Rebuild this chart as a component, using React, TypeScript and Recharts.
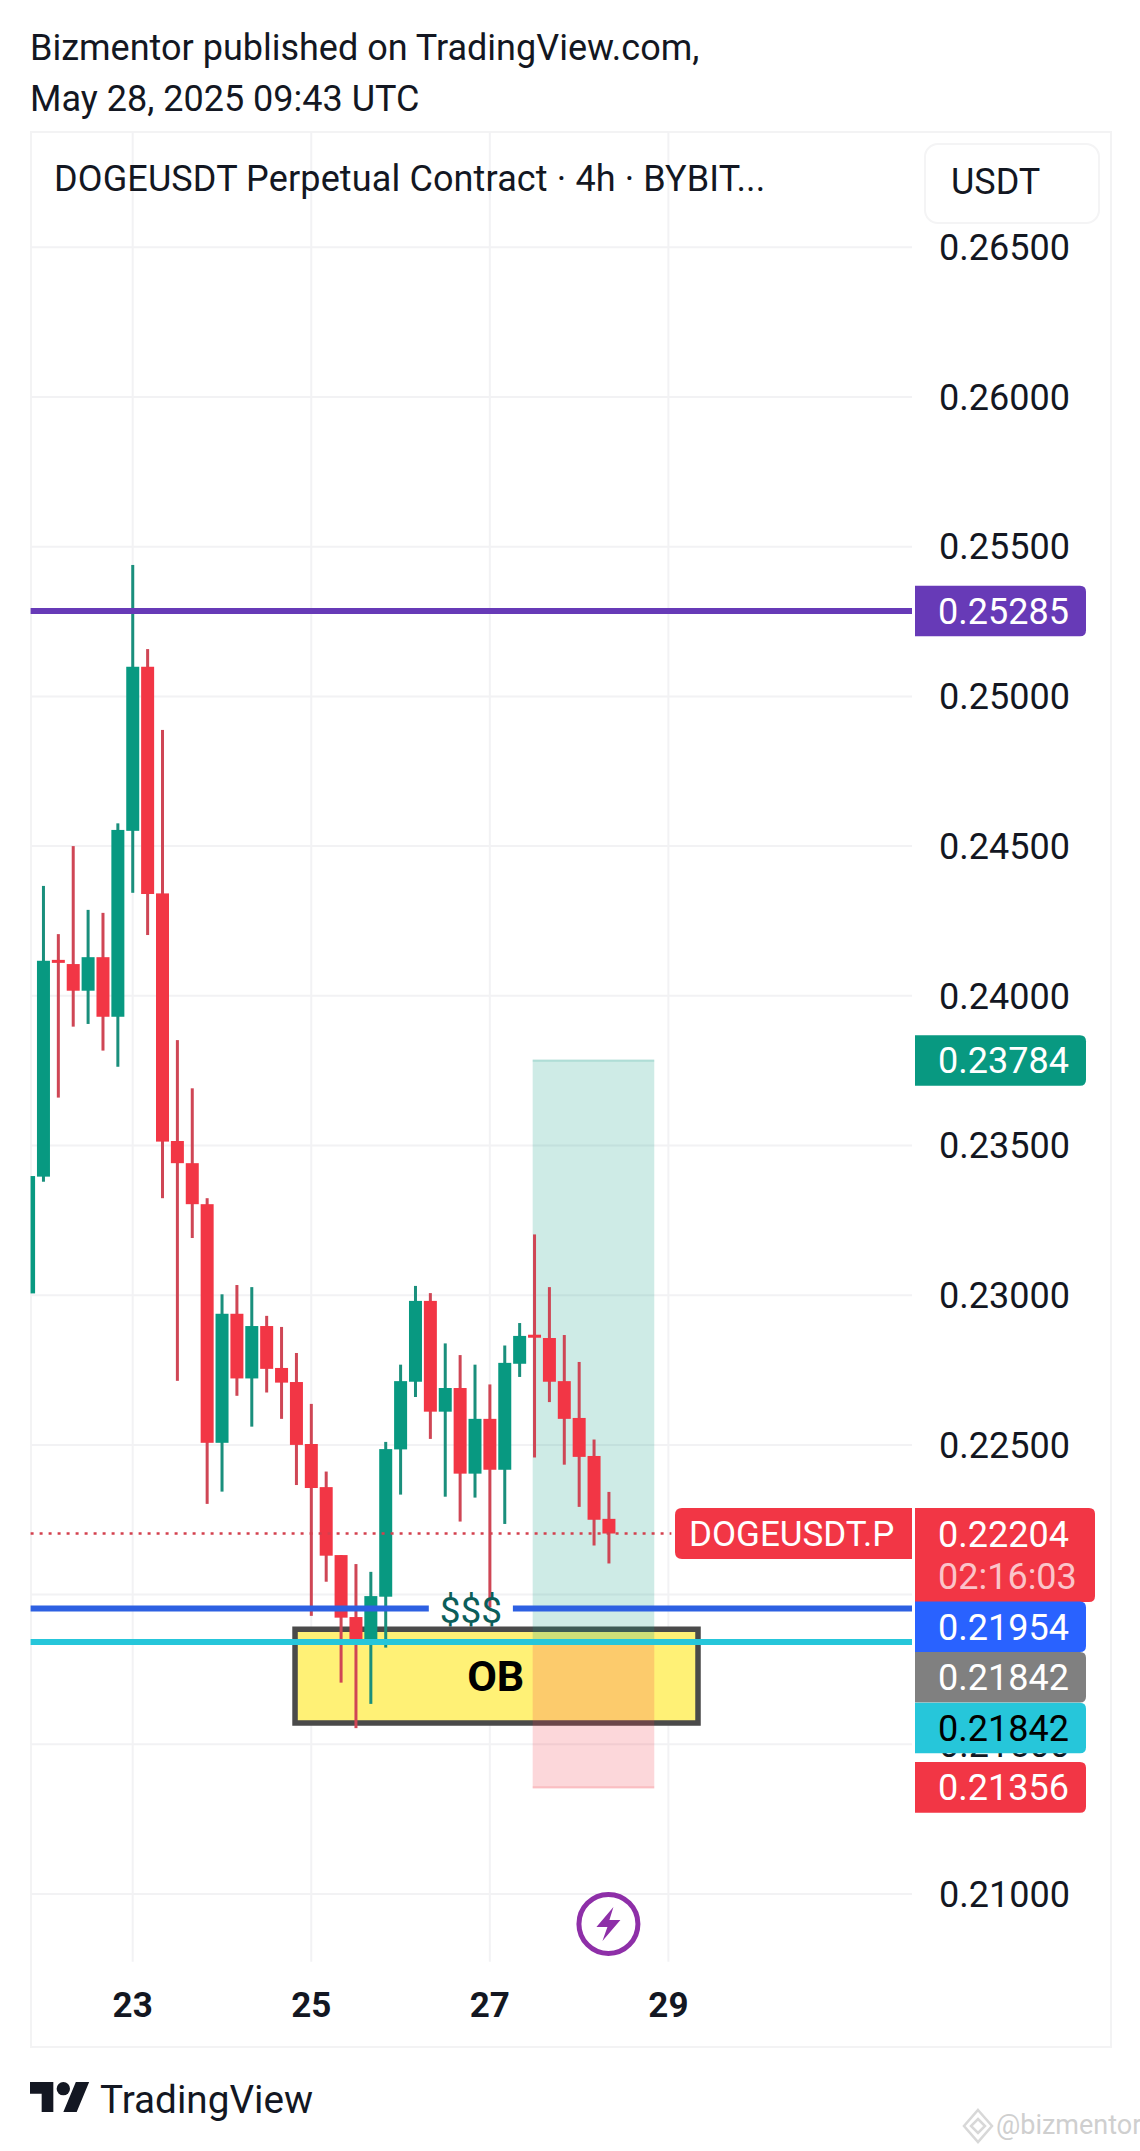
import {
  Bar,
  CartesianGrid,
  ComposedChart,
  ReferenceArea,
  ReferenceDot,
  ReferenceLine,
  XAxis,
  YAxis,
} from 'recharts';

// 4h bars counted from the start of May 23
const barIndex = [
  -7, -6, -5, -4, -3, -2, -1, 0, 1, 2, 3, 4, 5, 6, 7, 8, 9, 10, 11, 12, 13, 14, 15, 16, 17, 18, 19,
  20, 21, 22, 23, 24, 25, 26, 27, 28, 29, 30, 31, 32,
];
const opens = [
  0.23006, 0.23396, 0.2412, 0.24106, 0.24017, 0.24129, 0.2393, 0.24551, 0.25099, 0.24342, 0.23515,
  0.23441, 0.23304, 0.22507, 0.22938, 0.22722, 0.22897, 0.22757, 0.2271, 0.22503, 0.22359, 0.22132,
  0.21925, 0.21842, 0.21993, 0.22485, 0.22711, 0.22981, 0.22611, 0.2269, 0.22404, 0.22587, 0.22417,
  0.22771, 0.22868, 0.22857, 0.22713, 0.2259, 0.22463, 0.22253,
];
const highs = [
  0.23398, 0.24367, 0.24206, 0.245, 0.24287, 0.24277, 0.24576, 0.25439, 0.25158, 0.24888, 0.23852,
  0.23691, 0.23324, 0.23003, 0.23034, 0.23027, 0.22931, 0.22894, 0.22807, 0.22637, 0.22411, 0.22132,
  0.22102, 0.22076, 0.2251, 0.22768, 0.23031, 0.23007, 0.22839, 0.228, 0.22768, 0.22702, 0.22832,
  0.22907, 0.23203, 0.23027, 0.22867, 0.22777, 0.22518, 0.22343,
];
const lows = [
  0.23006, 0.23379, 0.2366, 0.23897, 0.23906, 0.23817, 0.23763, 0.24344, 0.24203, 0.23324, 0.22714,
  0.23191, 0.22303, 0.22344, 0.22664, 0.22561, 0.22675, 0.22587, 0.22366, 0.21929, 0.22043, 0.21706,
  0.21554, 0.21635, 0.21823, 0.22334, 0.2266, 0.2252, 0.22327, 0.22244, 0.22324, 0.21957, 0.22236,
  0.22727, 0.22458, 0.22643, 0.22434, 0.22293, 0.22164, 0.22104,
];
const closes = [
  0.23398, 0.24117, 0.2411, 0.24017, 0.24129, 0.2393, 0.24554, 0.25099, 0.2434, 0.23513, 0.23441,
  0.23304, 0.22507, 0.22938, 0.22722, 0.22897, 0.22754, 0.22708, 0.225, 0.22356, 0.2213, 0.21923,
  0.21842, 0.21995, 0.22486, 0.22713, 0.22981, 0.22611, 0.2269, 0.22404, 0.22587, 0.22417, 0.22774,
  0.22864, 0.22858, 0.22711, 0.22587, 0.2246, 0.2225, 0.22204,
];

const priceTicks = [
  0.21, 0.215, 0.22, 0.225, 0.23, 0.235, 0.24, 0.245, 0.25, 0.255, 0.26, 0.265,
];
const dayTicks = [0, 12, 24, 36];
const dayLabels = ['23', '25', '27', '29'];

const resistance = 0.25285;
const liquidity = 0.21954;
const entry = 0.21842;
const target = 0.23784;
const stop = 0.21356;
const lastPrice = 0.22204;
const countdown = '02:16:03';
const obTop = 0.21884;
const obBottom = 0.21571;

const data = barIndex.map((k, i) => ({
  k,
  open: opens[i],
  high: highs[i],
  low: lows[i],
  close: closes[i],
  range: [lows[i], highs[i]],
}));

const UP = '#089981';
const DOWN = '#f23645';
const FONT = 'Roboto, sans-serif';
const GRID = '#f2f2f4';
const X_DOMAIN = [-6.86, 52.37];
const Y_DOMAIN = [0.207739, 0.268861];

function Candle(props: any) {
  const { x, y, width, height, payload } = props;
  const { open, high, low, close } = payload;
  const up = close >= open;
  const span = high - low || 1;
  const yOf = (p: number) => y + ((high - p) / span) * height;
  const top = yOf(Math.max(open, close));
  const bottom = yOf(Math.min(open, close));
  const cx = x + width / 2;
  return (
    <g>
      <rect x={cx - 1.5} y={y} width={3} height={height} fill={up ? '#1a8f7c' : '#cf4655'} />
      <rect x={x} y={top} width={width} height={Math.max(bottom - top, 3)} fill={up ? UP : DOWN} />
    </g>
  );
}

function tagLabel(text: string, fill: string, color: string, dy: number) {
  return (props: any) => {
    const { viewBox } = props;
    const cy = viewBox.y + dy;
    const l = 915;
    const r = 1086;
    const t = cy - 25.3;
    const b = cy + 25.3;
    return (
      <g>
        <path
          d={`M${l} ${t}H${r - 6}Q${r} ${t} ${r} ${t + 6}V${b - 6}Q${r} ${b} ${r - 6} ${b}H${l}Z`}
          fill={fill}
        />
        <text x={938} y={cy + 1} dominantBaseline="central" fontFamily={FONT} fontSize={36} fill={color}>
          {text}
        </text>
      </g>
    );
  };
}

function lastPriceLabel(props: any) {
  const { viewBox } = props;
  const cy = viewBox.y;
  const t = cy - 25.5;
  const b = cy + 68.4;
  return (
    <g>
      <path
        d={`M675 ${t + 7}Q675 ${t} 682 ${t}H912V${cy + 25.5}H682Q675 ${cy + 25.5} 675 ${cy + 18.5}Z`}
        fill={DOWN}
      />
      <text x={689} y={cy + 1} dominantBaseline="central" fontFamily={FONT} fontSize={35} fill="#fff">
        DOGEUSDT.P
      </text>
      <path d={`M915 ${t}H1089Q1095 ${t} 1095 ${t + 6}V${b - 6}Q1095 ${b} 1089 ${b}H915Z`} fill={DOWN} />
      <text x={938} y={cy + 1} dominantBaseline="central" fontFamily={FONT} fontSize={36} fill="#fff">
        {lastPrice.toFixed(5)}
      </text>
      <text x={938} y={cy + 43} dominantBaseline="central" fontFamily={FONT} fontSize={36} fill="#fbc4c9">
        {countdown}
      </text>
    </g>
  );
}

function BoltIcon(props: any) {
  const { cx, cy } = props;
  return (
    <g transform={`translate(${cx} ${cy})`}>
      <circle r={29.5} fill="#fff" stroke="#8e2fa8" strokeWidth={5} />
      <path d="M5 -17L-12 3H-1L-6 17L12 -4H1Z" fill="#8e2fa8" />
    </g>
  );
}

export default function App() {
  return (
    <div style={{ position: 'absolute', left: 0, top: 0, width: 1140, height: 2151, background: '#fff', fontFamily: FONT, color: '#131722' }}>
      <div style={{ position: 'absolute', left: 30, top: 23, fontSize: 36, lineHeight: '50.6px', whiteSpace: 'nowrap' }}>
        Bizmentor published on TradingView.com,
        <br />
        May 28, 2025 09:43 UTC
      </div>
      <div style={{ position: 'absolute', left: 30, top: 131, width: 1078, height: 1913, border: '2px solid #f3f3f4' }} />

      <div style={{ position: 'absolute', left: 0, top: 0 }}>
        <ComposedChart
          width={1140}
          height={2151}
          data={data}
          margin={{ top: 131.7, right: 0, bottom: 0, left: 30.6 }}
          barSize={13}
          style={{ fontFamily: FONT }}
        >
          <CartesianGrid stroke={GRID} strokeWidth={2} syncWithTicks />
          <XAxis
            dataKey="k"
            type="number"
            domain={X_DOMAIN}
            allowDataOverflow
            ticks={dayTicks}
            tickFormatter={(v: number) => dayLabels[dayTicks.indexOf(v)]}
            height={189.3}
            axisLine={false}
            tickLine={false}
            tickMargin={24}
            tick={{ fontFamily: FONT, fontSize: 35, fontWeight: 700, fill: '#131722' }}
            interval={0}
          />
          <YAxis
            orientation="right"
            type="number"
            domain={Y_DOMAIN}
            allowDataOverflow
            ticks={priceTicks}
            tickFormatter={(v: number) => v.toFixed(5)}
            width={228}
            axisLine={false}
            tickLine={false}
            tickMargin={21}
            interval={0}
            tick={{ fontFamily: FONT, fontSize: 36, fill: '#131722', textAnchor: 'start' }}
          />

          <ReferenceArea
            x1={10.91}
            x2={37.99}
            y1={obBottom}
            y2={obTop}
            fill="#fff176"
            fillOpacity={1}
            stroke="#4a4a4a"
            strokeWidth={5.5}
          />
          <ReferenceArea x1={26.88} x2={35.05} y1={entry} y2={target} fill={UP} fillOpacity={0.2} stroke="none" />
          <ReferenceArea x1={26.88} x2={35.05} y1={stop} y2={entry} fill={DOWN} fillOpacity={0.2} stroke="none" />
          <ReferenceLine segment={[{ x: 26.88, y: target }, { x: 35.05, y: target }]} stroke={UP} strokeOpacity={0.25} strokeWidth={2} />
          <ReferenceLine segment={[{ x: 26.88, y: stop }, { x: 35.05, y: stop }]} stroke={DOWN} strokeOpacity={0.25} strokeWidth={2} />

          <ReferenceLine y={resistance} stroke="#673ab7" strokeWidth={6} />
          <ReferenceLine segment={[{ x: -6.86, y: liquidity }, { x: 19.9, y: liquidity }]} stroke="#2d60e2" strokeWidth={6} />
          <ReferenceLine segment={[{ x: 25.55, y: liquidity }, { x: 52.37, y: liquidity }]} stroke="#2d60e2" strokeWidth={6} />
          <ReferenceLine y={entry} stroke="#26c6da" strokeWidth={6} />
          <ReferenceLine
            segment={[{ x: -6.86, y: lastPrice }, { x: 36.2, y: lastPrice }]}
            stroke="#d3404e"
            strokeWidth={2.6}
            strokeDasharray="3 6"
          />

          <Bar dataKey="range" shape={Candle} isAnimationActive={false} />
          <ReferenceDot x={31.97} y={0.209} shape={BoltIcon} />
        </ComposedChart>
      </div>

      {/* second layer so the price tags cover the axis labels */}
      <div style={{ position: 'absolute', left: 0, top: 0 }}>
        <ComposedChart
          width={1140}
          height={2151}
          data={data}
          margin={{ top: 131.7, right: 228, bottom: 189.3, left: 30.6 }}
          style={{ fontFamily: FONT }}
        >
          <XAxis dataKey="k" type="number" domain={X_DOMAIN} allowDataOverflow hide />
          <YAxis type="number" domain={Y_DOMAIN} allowDataOverflow hide />
          <ReferenceDot
            x={22.73}
            y={liquidity}
            r={0}
            fill="none"
            stroke="none"
            label={{ value: '$$$', position: 'center', fontFamily: FONT, fontSize: 37, fill: '#0b5e5a', dy: 1 }}
          />
          <ReferenceDot
            x={24.4}
            y={(obTop + obBottom) / 2}
            r={0}
            fill="none"
            stroke="none"
            label={{ value: 'OB', position: 'center', fontFamily: FONT, fontSize: 43, fontWeight: 700, fill: '#000' }}
          />
          <ReferenceLine y={resistance} stroke="none" label={{ content: tagLabel('0.25285', '#673ab7', '#fff', 0) }} />
          <ReferenceLine y={target} stroke="none" label={{ content: tagLabel('0.23784', UP, '#fff', 0) }} />
          <ReferenceLine y={lastPrice} stroke="none" label={{ content: lastPriceLabel }} />
          <ReferenceLine y={liquidity} stroke="none" label={{ content: tagLabel('0.21954', '#2962ff', '#fff', 18.3) }} />
          <ReferenceLine y={entry} stroke="none" label={{ content: tagLabel('0.21842', '#808080', '#fff', 35.3) }} />
          <ReferenceLine y={entry} stroke="none" label={{ content: tagLabel('0.21842', '#26c6da', '#000', 86.1) }} />
          <ReferenceLine y={stop} stroke="none" label={{ content: tagLabel('0.21356', DOWN, '#fff', 0) }} />
        </ComposedChart>
      </div>

      <div style={{ position: 'absolute', left: 54, top: 159, fontSize: 36, lineHeight: '40px', letterSpacing: 0.13, whiteSpace: 'nowrap' }}>
        DOGEUSDT Perpetual Contract · 4h · BYBIT...
      </div>
      <div style={{ position: 'absolute', left: 924, top: 143, width: 172, height: 77, border: '2px solid #f4f4f5', borderRadius: 14, background: '#fff' }} />
      <div style={{ position: 'absolute', left: 951, top: 162, fontSize: 36, lineHeight: '40px' }}>USDT</div>

      <svg style={{ position: 'absolute', left: 30, top: 2082 }} width={60} height={30} viewBox="0 0 36 18">
        <path d="M14 18H7V7H0V0h14v18zM28 18h-8l7.5-18h8L28 18z" fill="#131722" />
        <circle cx={20} cy={4} r={4} fill="#131722" />
      </svg>
      <div style={{ position: 'absolute', left: 100, top: 2080, fontSize: 38.7, lineHeight: '40px', whiteSpace: 'nowrap' }}>TradingView</div>

      <svg style={{ position: 'absolute', left: 962, top: 2108 }} width={32} height={36} viewBox="0 0 32 36">
        <path d="M16 2L30 18L16 34L2 18Z M16 11L23 18L16 25L9 18Z" fill="none" stroke="#d8d8d8" strokeWidth={2.5} />
      </svg>
      <div style={{ position: 'absolute', left: 996, top: 2108, fontSize: 27, lineHeight: '34px', color: '#cfcfcf', whiteSpace: 'nowrap' }}>@bizmentor</div>
    </div>
  );
}
